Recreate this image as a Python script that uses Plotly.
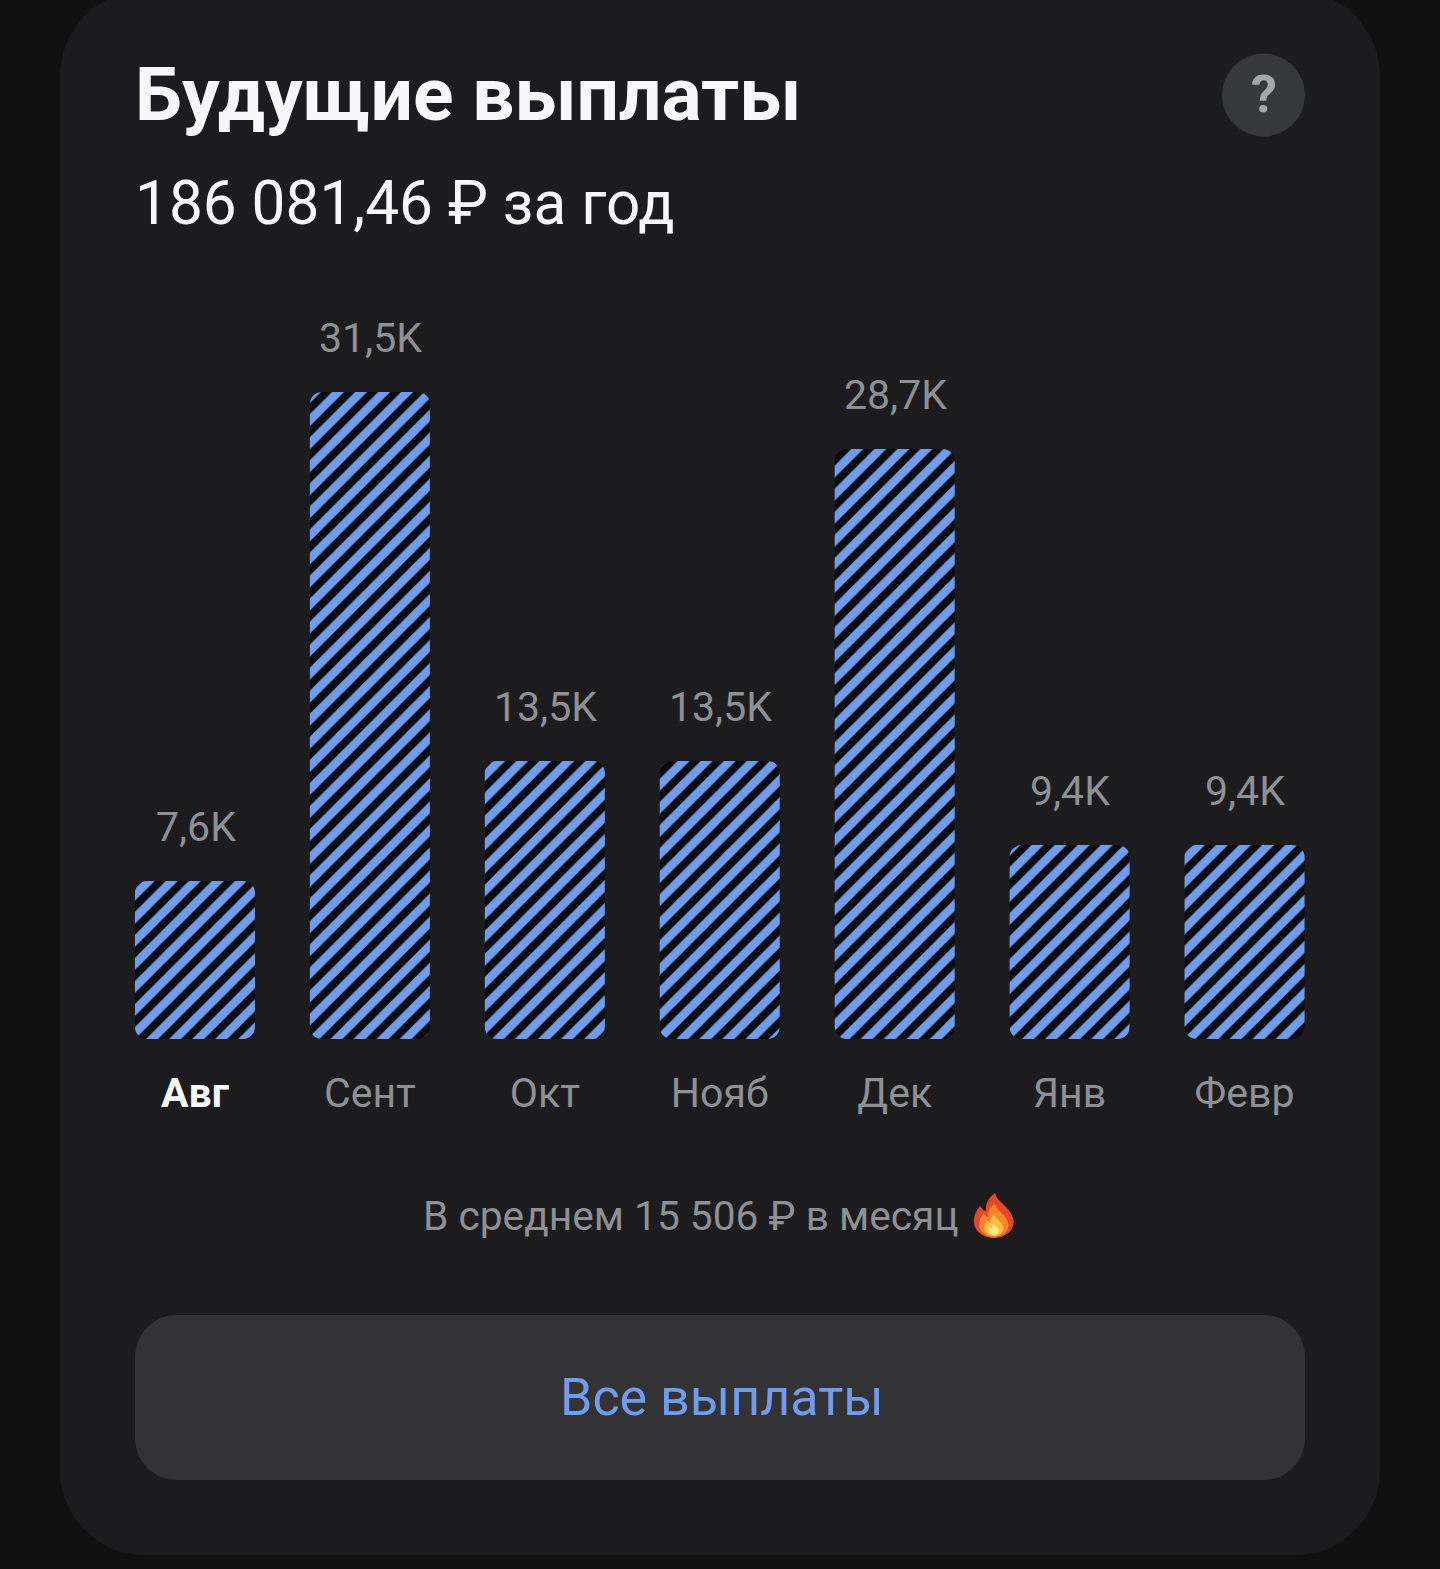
import plotly.graph_objects as go

months = ["Авг", "Сент", "Окт", "Нояб", "Дек", "Янв", "Февр"]
values = [7.69, 31.5, 13.54, 13.54, 28.72, 9.44, 9.44]
value_labels = ["7,6K", "31,5K", "13,5K", "13,5K", "28,7K", "9,4K", "9,4K"]
title = "Будущие выплаты"
subtitle = "186 081,46 ₽ за год"
average = "В среднем 15 506 ₽ в месяц"
button = "Все выплаты"

W, H = 1440, 1569
FONT = "Roboto"
GREY = "#8e9093"
BLUE = "#6f9ced"
CARD = "#1c1c1e"
AX_L, AX_R = 107.5, 1332
BASE = 1039


def fx(x):
    return x / W


def fy(y):
    return 1 - y / H


def P(x, y):
    return f"{fx(x):.5f},{fy(y):.5f}"


def rrect(x0, y0, x1, y1, r):
    k = 0.5523 * r
    return (
        f"M{P(x0 + r, y0)} L{P(x1 - r, y0)} C{P(x1 - r + k, y0)} {P(x1, y0 + r - k)} {P(x1, y0 + r)} "
        f"L{P(x1, y1 - r)} C{P(x1, y1 - r + k)} {P(x1 - r + k, y1)} {P(x1 - r, y1)} "
        f"L{P(x0 + r, y1)} C{P(x0 + r - k, y1)} {P(x0, y1 - r + k)} {P(x0, y1 - r)} "
        f"L{P(x0, y0 + r)} C{P(x0, y0 + r - k)} {P(x0 + r - k, y0)} {P(x0 + r, y0)} Z"
    )


def blob(cmds):
    out = []
    for c in cmds:
        out.append(c[0] + " ".join(P(c[i], c[i + 1]) for i in range(1, len(c), 2)))
    return " ".join(out) + " Z"


def flame(cx, base, s):
    def t(a, b):
        return cx + a * s, base - b * s
    return blob([
        ("M",) + t(1, 45),
        ("C",) + t(3, 36) + t(15, 32) + t(19, 20),
        ("C",) + t(22, 9) + t(12, 0) + t(0, 0),
        ("C",) + t(-13, 0) + t(-21, 9) + t(-20, 19),
        ("C",) + t(-19.5, 25) + t(-16, 29) + t(-14, 32),
        ("C",) + t(-12, 29) + t(-10, 27) + t(-8, 27),
        ("C",) + t(-9, 34) + t(-5, 41) + t(1, 45),
    ])


def corner_masks(cx, half, r):
    """Card-coloured corners that round the foot of a bar."""
    k = 0.5523 * r
    x0, x1 = cx - half, cx + half
    left = f"M{P(x0 - 0.5, BASE + 0.5)} L{P(x0 - 0.5, BASE - r)} L{P(x0, BASE - r)} C{P(x0, BASE - r + k)} {P(x0 + r - k, BASE)} {P(x0 + r, BASE)} L{P(x0 + r, BASE + 0.5)} Z"
    right = f"M{P(x1 + 0.5, BASE + 0.5)} L{P(x1 + 0.5, BASE - r)} L{P(x1, BASE - r)} C{P(x1, BASE - r + k)} {P(x1 - r + k, BASE)} {P(x1 - r, BASE)} L{P(x1 - r, BASE + 0.5)} Z"
    return [left, right]


def card_shape(path, color, layer="below"):
    return dict(type="path", path=path, xref="paper", yref="paper",
                fillcolor=color, line_width=0, layer=layer)


step = (AX_R - AX_L) / len(months)
shapes = [
    card_shape(rrect(60, -9, 1380, 1555, 85), CARD),
    card_shape(rrect(135, 1315, 1305, 1480, 42), "#333335"),
    dict(type="circle", xref="paper", yref="paper", x0=fx(1222), x1=fx(1305),
         y0=fy(136.5), y1=fy(53.5), fillcolor="#37383a", line_width=0, layer="below"),
    card_shape(flame(994, 1238, 1.0), "#e4482a"),
    card_shape(flame(994, 1237, 0.74), "#f6862a"),
    card_shape(flame(994, 1236, 0.48), "#fbbf45"),
    card_shape(flame(994, 1235, 0.25), "#ffe88a"),
]
for i in range(len(months)):
    for p in corner_masks(AX_L + step * (i + 0.5), 60, 12):
        shapes.append(card_shape(p, CARD, "above"))


def text(x, y, s, size, color, anchor="left", bold=False):
    return dict(xref="paper", yref="paper", x=fx(x), y=fy(y), text=f"<b>{s}</b>" if bold else s,
                showarrow=False, xanchor=anchor, yanchor="middle",
                font=dict(family=FONT, size=size, color=color), xshift=0, yshift=0)


annotations = [
    text(132.5, 93.5, title, 75, "#f7f7f9", bold=True),
    text(133, 204, subtitle, 60.3, "#f7f7f9"),
    text(1263.5, 94, "?", 52, "#a3a6ab", "center", bold=True),
    text(690.5, 1216, average, 40.7, GREY, "center"),
    text(722, 1397, button, 52, BLUE, "center"),
]
for m, v, lab in zip(months, values, value_labels):
    annotations.append(dict(xref="x", yref="y", x=m, y=v, text=lab, showarrow=False,
                            xanchor="center", yanchor="middle", yshift=54, xshift=0.7,
                            font=dict(family=FONT, size=41, color=GREY)))

tick_text = [f'<span style="color:#f7f7f9"><b>{m}</b></span>' if i == 0 else m
             for i, m in enumerate(months)]

fig = go.Figure(go.Bar(
    x=months, y=values, width=0.686,
    marker=dict(color="#0a0c10", line_width=0,
                pattern=dict(shape="/", size=16.3, solidity=0.52,
                             fgcolor=BLUE, bgcolor="#0a0c10", fillmode="replace")),
    hoverinfo="skip",
))
fig.update_layout(
    width=W, height=H, margin=dict(l=0, r=0, t=0, b=0, pad=0),
    paper_bgcolor="#101010", plot_bgcolor="rgba(0,0,0,0)",
    barcornerradius=12, showlegend=False, shapes=shapes, annotations=annotations,
    xaxis=dict(domain=[fx(AX_L), fx(AX_R)], range=[-0.5, 6.5], type="category",
               categoryorder="array", categoryarray=months,
               tickmode="array", tickvals=months, ticktext=tick_text, ticklabelstandoff=26,
               showgrid=False, zeroline=False, showline=False, ticks="",
               tickfont=dict(family=FONT, size=41, color=GREY)),
    yaxis=dict(domain=[fy(BASE), fy(392)], range=[0, 31.5], visible=False),
)
fig.write_html("out.html", post_script="document.body.style.margin='0';document.body.style.background='#101010';",
               config=dict(displayModeBar=False))
